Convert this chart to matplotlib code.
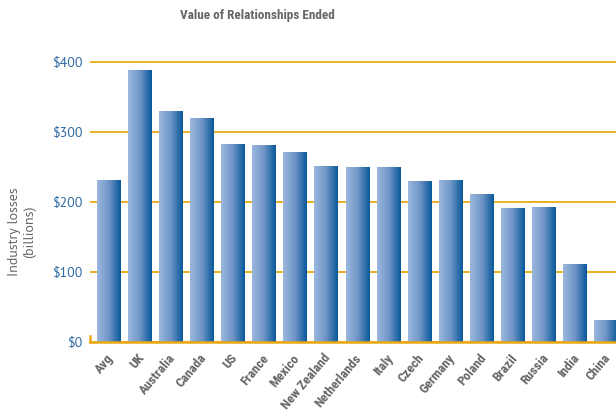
import numpy as np
import matplotlib
matplotlib.use("Agg")
import matplotlib.pyplot as plt
import matplotlib.transforms as mtransforms
from matplotlib.colors import LinearSegmentedColormap

# data (billions)
countries = ["Avg", "UK", "Australia", "Canada", "US", "France", "Mexico",
             "New Zealand", "Netherlands", "Italy", "Czech", "Germany",
             "Poland", "Brazil", "Russia", "India", "China"]
losses = [231, 389, 330, 320, 283, 281, 271, 251, 250, 250, 230, 231,
          211, 191, 193, 111, 31]
yticks = [0, 100, 200, 300, 400]
ytick_labels = ["$0", "$100", "$200", "$300", "$400"]

cond = ['Roboto Condensed', 'DejaVu Sans']
plain = ['PT Sans', 'DejaVu Sans']

gold = '#e8a913'
grey = '#666666'
blue_txt = '#2f6aa3'

fig = plt.figure(figsize=(6.16, 4.17), dpi=100)
ax = fig.add_axes([90/616, 1 - 342/417, 1 - 90/616, 287/417])

x = np.arange(len(countries))
bars = ax.bar(x, losses, width=0.77, color='none', edgecolor='none', zorder=3)

# horizontal gradient inside each bar
cmap = LinearSegmentedColormap.from_list('bar', ['#9cb8de', '#6f95c6', '#07589a'])
grad = np.linspace(0, 1, 256).reshape(1, -1)
for b in bars:
    x0, y0 = b.get_x(), b.get_y()
    w, h = b.get_width(), b.get_height()
    im = ax.imshow(grad, cmap=cmap, aspect='auto', extent=[x0, x0 + w, y0, y0 + h],
                   zorder=3, interpolation='bilinear')
    im.set_clip_path(b)

ax.set_xlim(-0.61, 16.32)
ax.set_ylim(0, 410)

ax.set_yticks(yticks)
ax.set_yticklabels(ytick_labels, color=blue_txt, fontsize=10, family=plain)
ax.tick_params(axis='y', length=0, pad=5)
ax.yaxis.grid(True, color=gold, linewidth=1.3, zorder=1)
ax.set_axisbelow(True)

ax.set_xticks(x)
ax.set_xticklabels(countries, rotation=50, ha='right', va='top',
                   rotation_mode='anchor', color=grey, fontsize=9.5, fontweight='bold',
                   family=cond)
ax.tick_params(axis='x', length=0, pad=7)
shift = mtransforms.ScaledTranslation(-0.03, 0, fig.dpi_scale_trans)
for lab in ax.get_xticklabels():
    lab.set_transform(lab.get_transform() + shift)

for s in ['top', 'right', 'left']:
    ax.spines[s].set_visible(False)
ax.spines['bottom'].set_color(gold)
ax.spines['bottom'].set_linewidth(1.8)
ax.spines['bottom'].set_zorder(4)
# little corner tick at the left end of the baseline
ax.plot([0, 0], [0, 0.02], transform=ax.transAxes, color=gold, lw=1.8, clip_on=False)

fig.text(22/616, 1 - 232/417, "Industry losses\n(billions)", rotation=90,
         ha='center', va='center', multialignment='center',
         color=grey, fontsize=10, family=plain)

fig.text(257/616, 1 - 16/417, "Value of Relationships Ended", ha='center', va='center',
         color=grey, fontsize=9.5, fontweight='bold', family=cond)

fig.savefig("out.png", dpi=100)
